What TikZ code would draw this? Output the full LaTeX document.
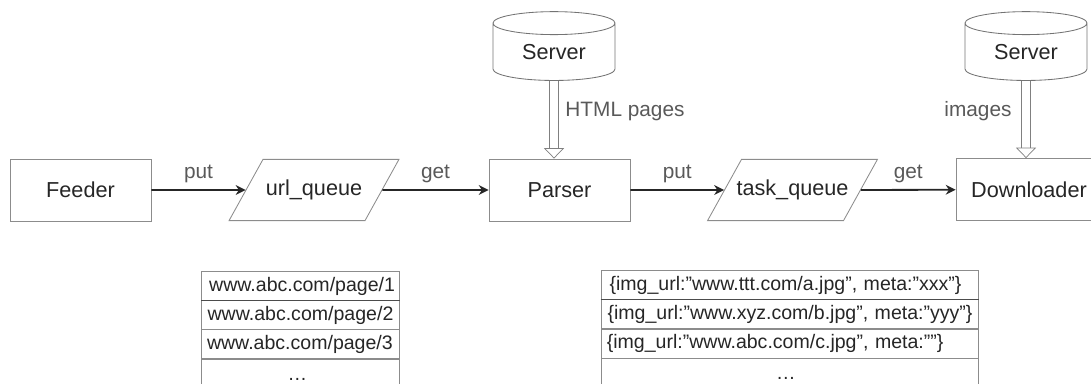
\documentclass[tikz,border=0pt]{standalone}
\usepackage{fontspec}
\setmainfont{Liberation Sans}
\usetikzlibrary{arrows.meta,shapes.geometric}
\tikzset{
	box/.style={draw=black!45, line width=0.6pt, minimum height=1.55cm, font=\fontsize{15.4}{17}\selectfont, text=black!85},
	queuebox/.style={draw=black!45, line width=0.6pt, trapezium, trapezium left angle=61, trapezium right angle=119, text width=2.55cm, align=center, text height=0.38cm, text depth=0.1cm, inner xsep=0pt, inner ysep=0.525cm, font=\fontsize{15.4}{17}\selectfont, text=black!85},
	server/.style={draw=black!55, line width=0.6pt, cylinder, shape border rotate=90, aspect=0.36, minimum width=3.05cm, minimum height=1.72cm, inner sep=0pt, font=\fontsize{15.4}{17}\selectfont, text=black!85},
	urlrow/.style={draw=black!45, line width=0.6pt, minimum width=4.93cm, minimum height=0.725cm, inner sep=0pt, font=\fontsize{13.9}{15}\selectfont, text=black!85},
	taskrow/.style={urlrow, text width=9.44cm, align=left},
	putget/.style={line width=1.3pt, black!85, -{Stealth[length=7pt,width=7pt]}},
	fetch/.style={double=white, draw=black!50, line width=0.5pt, double distance=0.21cm, -{Triangle[open,fill=white,length=0.26cm,width=0.5cm]}},
	lbl/.style={font=\fontsize{14.8}{16}\selectfont, text=black!65, inner sep=0pt},
}
\begin{document}
\begin{tikzpicture}[x=0.025cm,y=-0.025cm]
	\useasboundingbox (0,0) rectangle (1091,383);
	\clip (0,0) rectangle (1091,383);
	% top row
	\node[box, minimum width=3.525cm] (feeder) at (80.5,190) {Feeder};
	\node[queuebox] (urlq) at (314,190) {\makebox[0pt]{url\_queue}};
	\node[box, minimum width=3.525cm] (parser) at (559.5,190) {Parser};
	\node[queuebox] (taskq) at (792.5,190) {\makebox[0pt]{task\_queue}};
	\node[box, minimum width=3.65cm] (down) at (1029,189.5) {Downloader};
	\node[server] (srv1) at (554,52) {\raisebox{-0.07cm}{Server}};
	\node[server] (srv2) at (1026,52) {\raisebox{-0.07cm}{Server}};
	\coordinate (srv1in) at (parser.north -| srv1.south);
	\coordinate (srv2in) at (down.north -| srv2.south);
	% lists
	\node[urlrow] (u1) at (300.5,286) {\hspace{0.08cm}www.abc.com/page/1};
	\node[urlrow] (u2) at (300.5,315) {www.abc.com/page/2};
	\node[urlrow] (u3) at (300.5,344) {\hspace{-0.03cm}www.abc.com/page/3};
	\node[urlrow, minimum height=1cm] (u4) at (300.5,379) {\hspace{-0.15cm}\raisebox{-0.05cm}{\dots}};
	\node[taskrow] (t1) at (790,285) {\hspace*{0.21cm}\{img\_url:”www.ttt.com/a.jpg”, meta:”xxx”\}};
	\node[taskrow] (t2) at (790,314) {\hspace*{0.16cm}\{img\_url:”www.xyz.com/b.jpg”, meta:”yyy”\}};
	\node[taskrow] (t3) at (790,343.5) {\hspace*{0.14cm}\{img\_url:”www.abc.com/c.jpg”, meta:””\}};
	\node[urlrow, minimum width=9.44cm, minimum height=1cm] (t4) at (790,378) {\hspace{-0.2cm}\raisebox{-0.05cm}{\dots}};
	\draw [black!70, line width=0.7pt] (u1.south west) -- (u1.south east);
	\draw [black!70, line width=0.7pt] (t1.south west) -- (t1.south east);
	%
	\draw [putget] (feeder) to node[lbl, above=0.16cm] {put} (urlq.west);
	\draw [putget] (urlq.east) to node[lbl, above=0.16cm] {get} (parser);
	\draw [putget] (parser) to node[lbl, above=0.16cm] {put} (taskq.west);
	\draw [putget] (taskq.east) to node[lbl, above=0.16cm] {get} (down);
	\draw [fetch] (srv1.south) -- (srv1in);
	\draw [fetch] (srv2.south) -- (srv2in);
	\node[lbl] (html) at (625,111) {HTML pages};
	\node[lbl] (imgs) at (978,111) {images};
\end{tikzpicture}
\end{document}
